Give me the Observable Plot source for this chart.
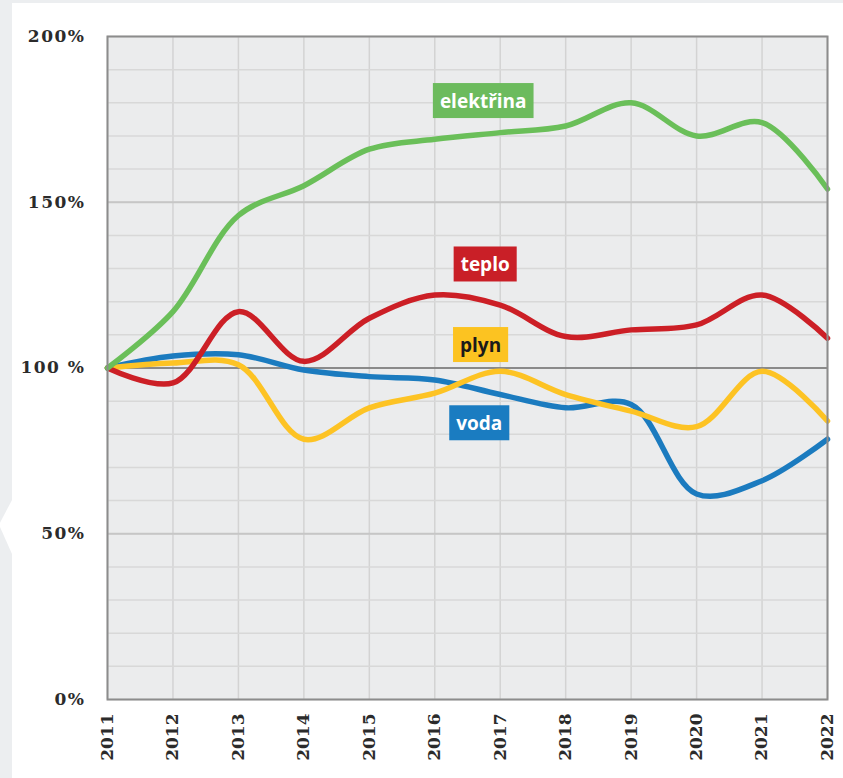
<!DOCTYPE html>
<html>
<head>
<meta charset="utf-8">
<script src="https://cdn.jsdelivr.net/npm/d3@7"></script>
<script src="https://cdn.jsdelivr.net/npm/@observablehq/plot@0.6"></script>
<style>
  body { margin: 0; background: #eceef0; }
  #wrap { position: relative; width: 843px; height: 778px; overflow: hidden; }
  #panel { position: absolute; left: 12px; top: 3px; right: 0; bottom: 0; background: #fff; }
  #notch { position: absolute; left: 0; top: 500px; width: 12px; height: 54px; background: #fff;
           clip-path: polygon(100% 0, 0 42%, 0 50%, 100% 100%); }
  #chart { position: absolute; left: 0; top: 0; }
  .yax text { letter-spacing: 1.5px; }
</style>
</head>
<body>
<div id="wrap">
  <div id="panel"></div>
  <div id="notch"></div>
  <div id="chart"></div>
</div>
<script>
// ---- data ----
const years = [2011, 2012, 2013, 2014, 2015, 2016, 2017, 2018, 2019, 2020, 2021, 2022];
const elektrina = [100, 117, 146, 155, 166, 169, 171, 173, 180, 170, 174, 154];
const teplo     = [100, 95.5, 117, 102, 115, 122, 119, 109.5, 111.5, 113, 122, 109];
const plyn      = [100, 101.5, 101, 78.5, 88, 92.4, 99, 92, 87, 82.3, 99, 84];
const voda      = [100, 103.6, 104, 99.4, 97.4, 96.4, 92, 88, 89, 62, 66, 78.5];

const seriesNames  = ["voda", "plyn", "teplo", "elektřina"];
const seriesColors = ["#1b7bbf", "#fdc324", "#cc1f26", "#6abf59"];
const seriesValues = [voda, plyn, teplo, elektrina];

const yTicks = [0, 50, 100, 150, 200];
const yTickLabels = ["0%", "50%", "100 %", "150%", "200%"];
const xTickLabels = ["2011", "2012", "2013", "2014", "2015", "2016", "2017", "2018", "2019", "2020", "2021", "2022"];

// series label annotations (in data units)
const labelNames  = ["elektřina", "teplo", "plyn", "voda"];
const labelYears  = [2016.74, 2016.77, 2016.70, 2016.68];
const labelValues = [180.4, 131.1, 106.8, 83.2];
const labelFills  = ["#6cbb5d", "#c91f27", "#fcc321", "#1a7cc1"];
const labelInk    = ["#ffffff", "#ffffff", "#1a1a1a", "#ffffff"];

// ---- build tables ----
const rows = [];
seriesNames.forEach((name, i) => {
  years.forEach((yr, j) => rows.push({series: name, year: yr, value: seriesValues[i][j]}));
});
const labels = labelNames.map((n, i) => ({name: n, year: labelYears[i], value: labelValues[i], fill: labelFills[i], ink: labelInk[i]}));
const colorOf = Object.fromEntries(seriesNames.map((n, i) => [n, seriesColors[i]]));

const chart = Plot.plot({
  width: 843,
  height: 778,
  marginLeft: 107,
  marginRight: 16,
  marginTop: 36,
  marginBottom: 79,
  style: {fontFamily: "DejaVu Serif", fontSize: "16px", color: "#2b2b2b", background: "transparent"},
  x: {domain: [2011, 2022]},
  y: {domain: [0, 200]},
  marks: [
    Plot.frame({fill: "#ebeced", stroke: null}),
    Plot.gridX({ticks: years, stroke: "#d3d3d3", strokeOpacity: 1, strokeWidth: 1.5}),
    Plot.gridY({ticks: d3.range(0, 201, 10), stroke: "#d8d8d8", strokeOpacity: 1, strokeWidth: 1.5}),
    Plot.gridY({ticks: [50, 150], stroke: "#c6c6c6", strokeOpacity: 1, strokeWidth: 1.8}),
    Plot.ruleY([100], {stroke: "#6e6e6e", strokeWidth: 1.5}),
    Plot.line(rows, {x: "year", y: "value", z: "series", stroke: d => colorOf[d.series],
      strokeWidth: 5.5, curve: "catmull-rom"}),
    Plot.frame({stroke: "#8c8c8c", strokeWidth: 2}),
    Plot.axisY({ticks: yTicks, tickFormat: d => yTickLabels[yTicks.indexOf(d)], tickSize: 0, tickPadding: 22,
      label: null, fontSize: 17, fontWeight: "bold", className: "yax", ariaLabel: "y-axis"}),
    Plot.axisX({ticks: years, tickFormat: d => xTickLabels[years.indexOf(d)], tickSize: 0, tickPadding: 14,
      tickRotate: -90, label: null, fontSize: 17, fontWeight: "bold"}),
    Plot.text(labels, {x: "year", y: "value", text: "name", fill: "ink", fontFamily: "Open Sans",
      fontWeight: "bold", fontSize: 19})
  ]
});

document.getElementById("chart").appendChild(chart);

// letter spacing on y tick labels
chart.querySelectorAll("text").forEach(t => {
  if (yTickLabels.includes(t.textContent)) t.setAttribute("letter-spacing", "1.5");
});

// draw boxes behind series labels
const ns = "http://www.w3.org/2000/svg";
chart.querySelectorAll("text").forEach(t => {
  const idx = labelNames.indexOf(t.textContent);
  if (idx < 0) return;
  const b = t.getBBox();
  const padX = 7, h = 35;
  const r = document.createElementNS(ns, "rect");
  r.setAttribute("x", b.x - padX);
  r.setAttribute("y", b.y + b.height / 2 - h / 2);
  r.setAttribute("width", b.width + 2 * padX);
  r.setAttribute("height", h);
  r.setAttribute("fill", labelFills[idx]);
  r.setAttribute("stroke", "none");
  if (t.getAttribute("transform")) r.setAttribute("transform", t.getAttribute("transform"));
  t.parentNode.insertBefore(r, t);
});
</script>
</body>
</html>
